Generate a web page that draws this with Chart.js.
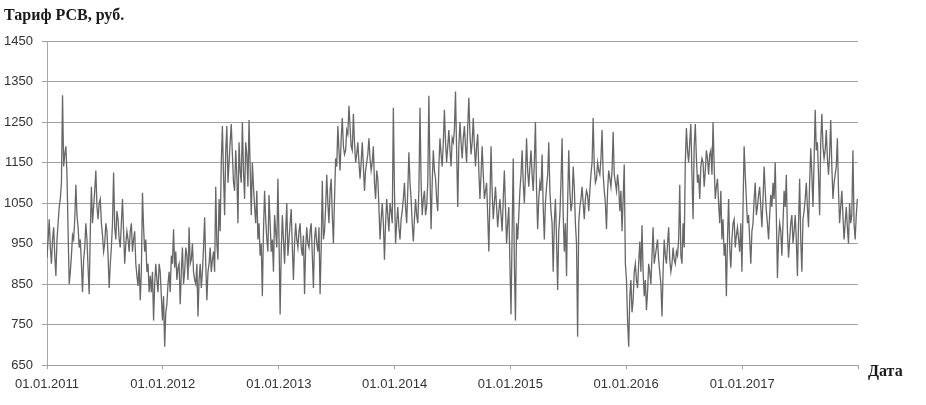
<!DOCTYPE html>
<html>
<head>
<meta charset="utf-8">
<script src="https://cdn.jsdelivr.net/npm/chart.js@4/dist/chart.umd.min.js"></script>
<style>
  html, body { margin: 0; padding: 0; background: #fff; }
  #chart { display: block; }
</style>
</head>
<body>
<canvas id="chart" width="926" height="405"></canvas>
<script>
// РСВ tariff, rub..
// one value per week from 01.01.2011, plus a mid-week value
const startDate = Date.UTC(2011, 0, 1);
const stepDays = 7;

const tariff2011 = [915, 1010, 900, 990, 870, 1000, 1060, 1316, 1170, 1120, 850, 920, 960, 1095, 990, 960,
  830, 940, 960, 825, 1090, 1040, 1130, 1010, 1060, 970, 950, 980, 840, 940, 1125, 960, 1010, 940, 1060,
  900, 980, 930, 1000, 960, 900, 845, 810, 1075, 930, 880, 830, 830, 760, 900, 830, 880, 760];
const mid2011 = [960, 940, 960, 920, 960, 1040, 1100, 1140, 1190, 980, 880, 970, 1010, 1020, 940, 900,
  910, 1000, 890, 980, 1000, 1080, 1040, 1050, 1000, 930, 1000, 920, 900, 1000, 990, 1030, 960, 1000, 980,
  950, 960, 980, 930, 980, 870, 900, 880, 990, 960, 900, 870, 880, 850, 860, 900, 820, 820];

const tariff2012 = [695, 800, 880, 920, 985, 930, 890, 800, 940, 880, 920, 990, 910, 880, 850, 770, 900,
  880, 1015, 810, 900, 880, 930, 1090, 910, 980, 1240, 1020, 1240, 1150, 1245, 1100, 1180, 1000, 1130,
  1250, 1060, 1170, 1255, 1020, 1090, 1000, 960, 920, 820, 1080, 960, 1070, 930, 880, 980, 1110];
const mid2012 = [780, 850, 830, 900, 890, 860, 900, 880, 850, 940, 860, 900, 950, 860, 900, 860, 840,
  940, 900, 880, 940, 910, 880, 950, 1060, 1150, 1120, 1180, 1100, 1200, 1170, 1080, 1120, 1200, 1100,
  1130, 1200, 1090, 1140, 1150, 1040, 1080, 1000, 950, 980, 1010, 930, 1000, 960, 1020, 940, 960];

const tariff2013 = [775, 1020, 900, 1050, 960, 1035, 860, 1000, 940, 1000, 920, 825, 990, 940, 1000, 840,
  990, 930, 825, 1105, 980, 1120, 1000, 1110, 950, 1160, 1240, 1130, 1260, 1170, 1230, 1290, 1190, 1270,
  1150, 1200, 1110, 1200, 1080, 1150, 1210, 1130, 1190, 1060, 1110, 960, 1050, 910, 1060, 980, 1030, 1285];
const mid2013 = [930, 960, 980, 920, 1000, 940, 950, 960, 980, 940, 970, 940, 950, 980, 920, 960, 950,
  990, 940, 960, 1040, 1050, 1080, 1020, 1060, 1140, 1180, 1210, 1190, 1180, 1220, 1240, 1180, 1200, 1170,
  1150, 1150, 1140, 1130, 1170, 1160, 1150, 1100, 1130, 1040, 1010, 1000, 1000, 1020, 1050, 1000, 1080];

const tariff2014 = [950, 1040, 960, 1030, 1100, 1000, 1175, 1060, 955, 1060, 1000, 1285, 1020, 1080, 1040,
  1315, 985, 1180, 1110, 1030, 1210, 1140, 1280, 1150, 1230, 1140, 1200, 1325, 1040, 1250, 1160, 1240,
  1150, 1310, 1170, 1260, 1140, 1220, 1060, 1190, 1060, 1100, 930, 1190, 1010, 1090, 990, 1060, 980, 1130,
  950, 1040];
const mid2014 = [1000, 990, 1010, 1060, 1040, 1080, 1100, 1000, 1010, 1020, 1080, 1100, 1060, 1020, 1100,
  1120, 1100, 1130, 1060, 1140, 1170, 1200, 1200, 1190, 1180, 1210, 1230, 1180, 1190, 1200, 1210, 1190,
  1240, 1220, 1200, 1190, 1190, 1130, 1120, 1120, 1080, 1020, 1060, 1080, 1050, 1040, 1030, 1020, 1060,
  1040, 1000, 900];

const tariff2015 = [775, 1160, 760, 960, 1080, 1180, 1050, 1210, 1090, 1180, 1080, 1250, 985, 1100, 1170,
  960, 1090, 1200, 1030, 880, 1060, 835, 1020, 1210, 930, 870, 1180, 1030, 1140, 1000, 720, 1040, 1090,
  1010, 1080, 1030, 1120, 1260, 1100, 1150, 1120, 1230, 1080, 985, 1130, 1090, 1225, 1100, 1120, 1030,
  980, 1145];
const mid2015 = [980, 900, 1000, 1020, 1120, 1100, 1120, 1130, 1140, 1120, 1150, 1080, 1060, 1080, 1040,
  1050, 1120, 1080, 1000, 1000, 960, 980, 1100, 1020, 1000, 1050, 1080, 1050, 1090, 950, 1000, 1060, 1050,
  1060, 1070, 1080, 1150, 1140, 1110, 1130, 1160, 1120, 1050, 1080, 1110, 1130, 1120, 1080, 1090, 1080,
  1060, 900];

const tariff2016 = [860, 695, 860, 810, 900, 840, 955, 995, 820, 785, 900, 850, 990, 920, 960, 880, 770,
  960, 900, 990, 880, 940, 900, 920, 1095, 900, 940, 1235, 1150, 1245, 1010, 1245, 1100, 1060, 1160, 1090,
  1180, 1120, 1180, 1250, 1060, 1110, 1000, 960, 920, 820, 1060, 890, 1000, 940, 990, 930, 880];
const mid2016 = [760, 820, 780, 880, 860, 900, 880, 880, 860, 830, 880, 920, 900, 940, 910, 850, 880,
  920, 950, 910, 900, 910, 930, 960, 920, 1000, 1150, 1180, 1200, 1120, 1190, 1160, 1120, 1140, 1150, 1130,
  1160, 1170, 1120, 1140, 1090, 1050, 1080, 1010, 950, 960, 940, 960, 1010, 970, 960, 1000, 1040];

const tariff2017 = [1190, 1060, 1020, 900, 1000, 1100, 1040, 1090, 990, 1140, 1030, 960, 1070, 1100, 1150,
  865, 1000, 920, 1080, 1120, 915, 1000, 950, 1020, 870, 1110, 880, 1030, 1100, 990, 1185, 1040, 1280,
  1200, 1020, 1270, 1160, 1230, 1120, 1255, 1060, 1120, 1210, 1000, 1080, 960, 1040, 950, 1000, 1180, 960,
  1060];
const mid2017 = [1120, 1000, 960, 980, 1060, 1020, 1070, 1040, 1060, 1080, 1000, 1020, 1040, 1060, 1020,
  960, 980, 1000, 1040, 980, 960, 1020, 980, 960, 1000, 960, 1010, 1060, 1040, 1100, 1120, 1150, 1180,
  1120, 1200, 1190, 1180, 1160, 1170, 1140, 1100, 1140, 1080, 1040, 1020, 1000, 990, 1050, 1020, 1000, 1020];

const dateLabels = ['01.01.2011', '01.01.2012', '01.01.2013', '01.01.2014', '01.01.2015', '01.01.2016',
  '01.01.2017', '01.01.2018'];
const yMin = 650;
const yMax = 1450;
const yStep = 100;

const DAY = 86400000;
const weekly = [].concat(tariff2011, tariff2012, tariff2013, tariff2014, tariff2015, tariff2016, tariff2017);
const midweek = [].concat(mid2011, mid2012, mid2013, mid2014, mid2015, mid2016, mid2017);

const points = [];
weekly.forEach((v, i) => {
  points.push({ x: i * stepDays, y: v });
  if (i < midweek.length) points.push({ x: i * stepDays + stepDays / 2, y: midweek[i] });
});

function labelToDay(label) {
  const parts = label.split('.');
  return (Date.UTC(+parts[2], +parts[1] - 1, +parts[0]) - startDate) / DAY;
}
const tickDays = dateLabels.map(labelToDay);

const axisTitles = {
  id: 'axisTitles',
  afterDraw(chart) {
    const ctx = chart.ctx;
    ctx.save();
    ctx.fillStyle = '#1a1a1a';
    ctx.font = 'bold 16px "Liberation Serif", "DejaVu Serif", serif';
    ctx.textBaseline = 'alphabetic';
    ctx.textAlign = 'left';
    ctx.fillText('Тариф РСВ, руб.', 4, 20);
    ctx.fillText('Дата', 868, 376);
    ctx.restore();
  }
};

new Chart(document.getElementById('chart'), {
  type: 'line',
  data: {
    datasets: [{
      data: points,
      borderColor: '#676767',
      borderWidth: 1.3,
      pointRadius: 0,
      tension: 0,
      fill: false,
    }]
  },
  options: {
    responsive: false,
    animation: false,
    layout: {
      padding: { left: 0, right: 68, top: 41, bottom: 0 }
    },
    scales: {
      x: {
        type: 'linear',
        min: tickDays[0],
        max: tickDays[tickDays.length - 1],
        afterBuildTicks: (axis) => {
          axis.ticks = tickDays.map((d) => ({ value: d }));
        },
        afterFit: (axis) => {
          axis.height = 40;
        },
        ticks: {
          autoSkip: false,
          maxRotation: 0,
          padding: 8,
          color: '#333333',
          font: { family: '"Liberation Sans", Arial, sans-serif', size: 13 },
          callback: (value) => {
            const idx = tickDays.indexOf(value);
            return idx >= 0 && idx < dateLabels.length - 1 ? dateLabels[idx] : '';
          }
        },
        grid: {
          drawOnChartArea: false,
          tickLength: 4,
          color: '#a0a0a0'
        },
        border: { color: '#a0a0a0' }
      },
      y: {
        min: yMin,
        max: yMax,
        afterFit: (axis) => {
          axis.width = 47;
        },
        ticks: {
          stepSize: yStep,
          padding: 9,
          color: '#333333',
          font: { family: '"Liberation Sans", Arial, sans-serif', size: 13 },
          callback: (value) => String(value)
        },
        grid: {
          color: '#a0a0a0',
          tickLength: 5
        },
        border: { color: '#a8a8a8' }
      }
    },
    plugins: {
      legend: { display: false },
      tooltip: { enabled: false }
    }
  },
  plugins: [axisTitles]
});
</script>
</body>
</html>
